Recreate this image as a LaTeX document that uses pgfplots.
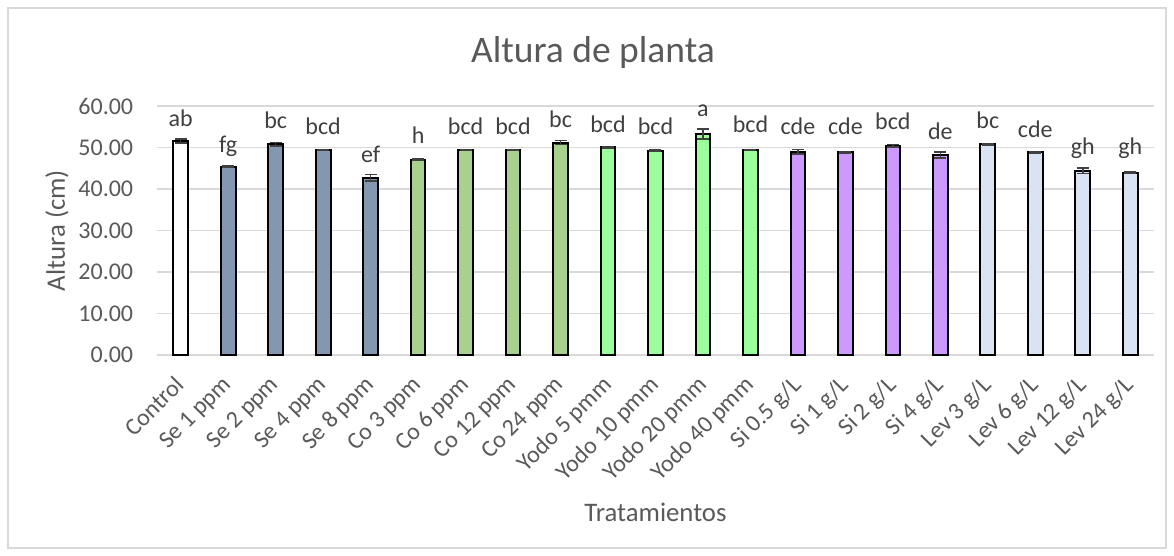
\documentclass[border=0pt]{standalone}
\usepackage{pgfplots}
\pgfplotsset{compat=1.18}
\usepackage{fontspec}
\setmainfont{Carlito}
\definecolor{txt}{HTML}{595959}
\definecolor{lblc}{HTML}{404040}
\definecolor{gridc}{HTML}{D9D9D9}
\definecolor{errc}{HTML}{404040}
\definecolor{seC}{HTML}{8497B0}
\definecolor{coC}{HTML}{A9D18E}
\definecolor{yoC}{HTML}{99FF99}
\definecolor{siC}{HTML}{CC99FF}
\definecolor{leC}{HTML}{DAE3F3}
\pgfplotsset{
  mybar/.style={ybar, bar width=0.31, bar shift=0pt, draw=black, line width=0.8pt,
    error bars/.cd, y dir=both, y explicit,
    error bar style={line width=0.6pt, draw=errc},
    error mark options={rotate=90, mark size=2.4pt, line width=0.6pt, draw=errc},
    /pgfplots/.cd}
}
\begin{document}
\begin{tikzpicture}
\begin{axis}[
  scale only axis, width=398.8pt, height=99.6pt,
  xmin=-0.5, xmax=20.5, ymin=0, ymax=60,
  clip=false,
  ytick={0,10,...,60},
  xtick={0,...,20},
  xticklabels={Control, Se 1 ppm, Se 2 ppm, Se 4 ppm, Se 8 ppm, Co 3 ppm, Co 6 ppm, Co 12 ppm, Co 24 ppm, Yodo 5 pmm, Yodo 10 pmm, Yodo 20 pmm, Yodo 40 pmm, Si 0.5 g/L, Si 1 g/L, Si 2 g/L, Si 4 g/L, Lev 3 g/L, Lev 6 g/L, Lev 12 g/L, Lev 24 g/L},
  x tick label style={rotate=45, anchor=north east, font=\fontsize{9.6}{11}\selectfont, text=txt, inner sep=1pt, xshift=-6.35pt, yshift=-2.3pt},
  y tick label style={font=\fontsize{9.6}{11}\selectfont, text=txt, xshift=-6pt},
  /pgf/number format/.cd, fixed, fixed zerofill, precision=2, assume math mode=true,
  /pgfplots/.cd,
  major tick length=0pt,
  separate axis lines,
  x axis line style={draw=gridc, line width=0.6pt},
  y axis line style={draw=none},
  ymajorgrids,
  major grid style={draw=gridc, line width=0.6pt},
  title={Altura de planta},
  title style={at={(axis description cs:0.4373,1.2129)}, anchor=center, yshift=-6pt, font=\fontsize{15}{18}\selectfont, text=txt},
  ylabel={Altura (cm)},
  ylabel style={at={(axis description cs:-0.1003,0.5)}, anchor=center, font=\fontsize{10.7}{13}\selectfont, text=txt},
  xlabel={Tratamientos},
  xlabel style={at={(axis description cs:0.5,-0.6305)}, anchor=center, font=\fontsize{10.7}{13}\selectfont, text=txt},
]
\addplot[mybar, fill=white] coordinates {(0,51.6) +- (0,0.5)};
\addplot[mybar, fill=seC] coordinates {(1,45.4) +- (0,0.15) (2,50.8) +- (0,0.4) (3,49.4) +- (0,0.15) (4,42.7) +- (0,0.8)};
\addplot[mybar, fill=coC] coordinates {(5,47.1) +- (0,0.15) (6,49.4) +- (0,0.15) (7,49.4) +- (0,0.15) (8,51.2) +- (0,0.5)};
\addplot[mybar, fill=yoC] coordinates {(9,50.0) +- (0,0.15) (10,49.2) +- (0,0.15) (11,53.2) +- (0,1.2) (12,49.4) +- (0,0.15)};
\addplot[mybar, fill=siC] coordinates {(13,49.0) +- (0,0.55) (14,48.8) +- (0,0.15) (15,50.4) +- (0,0.3) (16,48.2) +- (0,0.7)};
\addplot[mybar, fill=leC] coordinates {(17,50.8) +- (0,0.15) (18,48.8) +- (0,0.15) (19,44.4) +- (0,0.7) (20,43.9) +- (0,0.15)};
\addplot[draw=none, mark=none, nodes near coords, point meta=explicit symbolic,
  nodes near coords style={anchor=center, font=\fontsize{9.6}{11}\selectfont, text=lblc}]
  table[meta=lab, row sep=\\] {
x y lab\\
0 57.0 ab\\
1 50.4 fg\\
2 56.6 bc\\
3 55.2 bcd\\
4 48.4 ef\\
5 53.0 h\\
6 55.2 bcd\\
7 55.2 bcd\\
8 56.9 bc\\
9 55.7 bcd\\
10 55.2 bcd\\
11 58.9 a\\
12 55.7 bcd\\
13 55.1 cde\\
14 55.0 cde\\
15 56.4 bcd\\
16 53.9 de\\
17 56.5 bc\\
18 54.5 cde\\
19 49.8 gh\\
20 49.8 gh\\
};
\coordinate (bbA) at (rel axis cs:-0.15747,-0.80723);
\coordinate (bbB) at (rel axis cs:1.02006,1.42570);
\draw[gridc, line width=0.6pt] (rel axis cs:-0.14945,-0.77510) rectangle (rel axis cs:1.01204,1.39357);
\end{axis}
\pgfresetboundingbox
\useasboundingbox (bbA) rectangle (bbB);
\end{tikzpicture}
\end{document}
